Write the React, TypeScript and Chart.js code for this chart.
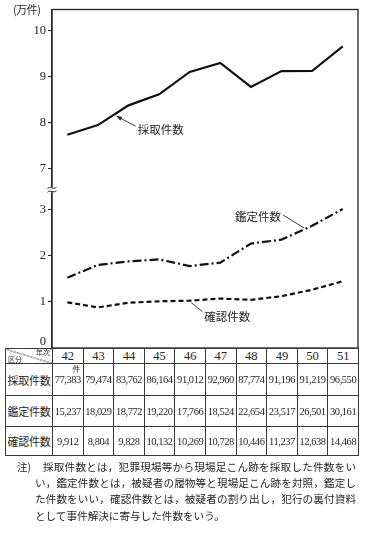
import React, { useEffect, useRef } from 'react';
import { Chart, registerables } from 'chart.js';

Chart.register(...registerables);

const years = ['42', '43', '44', '45', '46', '47', '48', '49', '50', '51'];
const saishu = [77383, 79474, 83762, 86164, 91012, 92960, 87774, 91196, 91219, 96550];
const kantei = [15237, 18029, 18772, 19220, 17766, 18524, 22654, 23517, 26501, 30161];
const kakunin = [9912, 8804, 9828, 10132, 10269, 10728, 10446, 11237, 12638, 14468];
const seriesNames = ['採取件数', '鑑定件数', '確認件数'];
const highTicks = [7, 8, 9, 10];
const lowTicks = [0, 1, 2, 3];
const unitLabel = '(万件)';
const headerYear = '年次';
const headerKind = '区分';
const unitMark = '件';
const noteMark = '注)';
const noteLines = [
  '採取件数とは，犯罪現場等から現場足こん跡を採取した件数をい',
  'い，鑑定件数とは，被疑者の履物等と現場足こん跡を対照，鑑定し',
  'た件数をいい，確認件数とは，被疑者の割り出し，犯行の裏付資料',
  'として事件解決に寄与した件数をいう。',
];

const SERIF = "'Liberation Serif', 'Noto Sans CJK JP', serif";
const JP = "'Noto Sans CJK JP', sans-serif";
const INK = '#262626';
const TICK_SIZE = 12.5;

const fmt = (n: number) => n.toLocaleString('en-US');

const overlay = {
  id: 'overlay',
  afterDraw(chart: any) {
    const ctx = chart.ctx as CanvasRenderingContext2D;
    const ca = chart.chartArea;
    ctx.save();
    // frame
    ctx.strokeStyle = INK;
    ctx.lineWidth = 1.3;
    ctx.strokeRect(ca.left, ca.top, ca.right - ca.left, ca.bottom - ca.top);
    // zero label sits just above the table
    const yLow = chart.scales.yLow;
    ctx.fillStyle = INK;
    ctx.font = `${TICK_SIZE}px ${SERIF}`;
    ctx.textAlign = 'right';
    ctx.textBaseline = 'middle';
    ctx.fillText(String(lowTicks[0]), ca.left - 6, yLow.getPixelForValue(lowTicks[0]) - 6);
    // axis break
    const by = yLow.top;
    const bx = ca.left;
    ctx.fillStyle = '#fff';
    ctx.fillRect(bx - 2, by - 2.5, 4, 5);
    ctx.lineWidth = 1;
    ctx.strokeStyle = INK;
    for (const off of [-1.8, 1.8]) {
      ctx.beginPath();
      ctx.moveTo(bx - 4.5, by + off + 0.8);
      ctx.bezierCurveTo(bx - 1.5, by + off - 2.2, bx + 1.5, by + off + 2.2, bx + 4.5, by + off - 0.8);
      ctx.stroke();
    }
    // annotations
    const pt = (di: number, i: number, t: number) => {
      const d = chart.getDatasetMeta(di).data;
      const a = d[i];
      const b = d[i + 1];
      return { x: a.x + (b.x - a.x) * t, y: a.y + (b.y - a.y) * t };
    };
    ctx.fillStyle = INK;
    ctx.strokeStyle = INK;
    ctx.lineWidth = 0.9;
    ctx.font = `11.5px ${JP}`;
    ctx.textBaseline = 'middle';
    // 採取件数
    const p0 = pt(0, 1, 0.55);
    ctx.beginPath();
    ctx.moveTo(p0.x + 2, p0.y + 2);
    ctx.lineTo(p0.x + 21, p0.y + 12);
    ctx.stroke();
    ctx.beginPath();
    ctx.moveTo(p0.x + 1.5, p0.y + 1.5);
    ctx.lineTo(p0.x + 7.5, p0.y + 2.8);
    ctx.lineTo(p0.x + 5.6, p0.y + 6.4);
    ctx.closePath();
    ctx.fill();
    ctx.textAlign = 'left';
    ctx.fillText(seriesNames[0], p0.x + 23, p0.y + 15);
    // 鑑定件数
    const p1 = pt(1, 7, 0.77);
    ctx.beginPath();
    ctx.moveTo(p1.x - 1, p1.y - 1);
    ctx.lineTo(p1.x - 22, p1.y - 14);
    ctx.stroke();
    ctx.textAlign = 'right';
    ctx.fillText(seriesNames[1], p1.x - 24, p1.y - 12);
    // 確認件数
    const p2 = pt(2, 4, 0.02);
    ctx.beginPath();
    ctx.moveTo(p2.x + 1, p2.y + 2);
    ctx.lineTo(p2.x + 12, p2.y + 11);
    ctx.stroke();
    ctx.textAlign = 'left';
    ctx.fillText(seriesNames[2], p2.x + 14, p2.y + 16);
    ctx.restore();
  },
};

export default function App() {
  const ref = useRef<HTMLCanvasElement>(null);

  useEffect(() => {
    document.body.style.margin = '0';
    const canvas = ref.current!;
    const tickFont = { family: SERIF, size: TICK_SIZE };
    const chart = new Chart(canvas, {
      type: 'line',
      data: {
        labels: years,
        datasets: [
          {
            label: seriesNames[0],
            data: saishu.map((v) => v / 10000),
            yAxisID: 'yHigh',
            borderColor: '#111',
            borderWidth: 2.2,
            pointRadius: 0,
            tension: 0,
          },
          {
            label: seriesNames[1],
            data: kantei.map((v) => v / 10000),
            yAxisID: 'yLow',
            borderColor: '#111',
            borderWidth: 2.2,
            borderDash: [9, 3, 2, 3],
            pointRadius: 0,
            tension: 0,
          },
          {
            label: seriesNames[2],
            data: kakunin.map((v) => v / 10000),
            yAxisID: 'yLow',
            borderColor: '#111',
            borderWidth: 2.2,
            borderDash: [5, 3],
            pointRadius: 0,
            tension: 0,
          },
        ],
      },
      options: {
        responsive: false,
        animation: false,
        devicePixelRatio: 1,
        layout: { padding: { top: 8, right: 8, bottom: 12, left: 0 } },
        plugins: { legend: { display: false }, tooltip: { enabled: false } },
        scales: {
          x: { type: 'category', offset: true, display: false },
          yLow: {
            type: 'linear',
            position: 'left',
            stack: 'y',
            stackWeight: 159,
            min: 0,
            max: 3.434,
            afterFit: (s: any) => { s.width = 52; },
            afterBuildTicks: (s: any) => { s.ticks = lowTicks.map((v) => ({ value: v })); },
            ticks: {
              font: tickFont,
              color: INK,
              padding: 2,
              autoSkip: false,
              callback: (v: any) => (v === lowTicks[0] ? '' : String(v)),
            },
            grid: { drawOnChartArea: false, color: INK, tickLength: 4 },
            border: { display: true, color: INK, width: 1.3 },
          },
          yHigh: {
            type: 'linear',
            position: 'left',
            stack: 'y',
            stackWeight: 181,
            min: 6.546,
            max: 10.456,
            afterFit: (s: any) => { s.width = 52; },
            afterBuildTicks: (s: any) => { s.ticks = highTicks.map((v) => ({ value: v })); },
            ticks: { font: tickFont, color: INK, padding: 2, autoSkip: false },
            grid: { drawOnChartArea: false, color: INK, tickLength: 4 },
            border: { display: true, color: INK, width: 1.3 },
          },
        },
      } as any,
      plugins: [overlay],
    });
    return () => chart.destroy();
  }, []);

  const rows = [saishu, kantei, kakunin];
  const rowHeights = [32, 31, 29];
  const cell: React.CSSProperties = {
    border: '1px solid #3a3a3a',
    padding: 0,
    textAlign: 'center',
    verticalAlign: 'middle',
    color: INK,
  };
  const numStyle: React.CSSProperties = {
    ...cell,
    fontFamily: SERIF,
    fontSize: 10.5,
    letterSpacing: '-0.45px',
    whiteSpace: 'nowrap',
  };

  return (
    <div style={{ position: 'relative', width: 366, height: 536, background: '#fff', overflow: 'hidden' }}>
      <canvas ref={ref} width={366} height={360} style={{ position: 'absolute', left: 0, top: 0, width: 366, height: 360 }} />
      <div style={{ position: 'absolute', left: 13, top: 1, fontFamily: JP, fontSize: 11, color: INK, letterSpacing: '-0.5px' }}>{unitLabel}</div>
      <table
        style={{
          position: 'absolute',
          left: 5,
          top: 348,
          width: 353,
          borderCollapse: 'collapse',
          tableLayout: 'fixed',
          border: '1.5px solid #222',
          background: '#fff',
        }}
      >
        <colgroup>
          <col style={{ width: 47 }} />
          {years.map((y) => (
            <col key={y} style={{ width: 30.6 }} />
          ))}
        </colgroup>
        <tbody>
          <tr style={{ height: 15 }}>
            <td
              style={{
                ...cell,
                position: 'relative',
                background: 'linear-gradient(to top right, transparent calc(50% - 0.6px), #333 50%, transparent calc(50% + 0.6px))',
              }}
            >
              <span style={{ position: 'absolute', right: 2, top: -1, fontFamily: JP, fontSize: 7, lineHeight: '8px' }}>{headerYear}</span>
              <span style={{ position: 'absolute', left: 2, bottom: 0, fontFamily: JP, fontSize: 7, lineHeight: '8px' }}>{headerKind}</span>
            </td>
            {years.map((y) => (
              <td key={y} style={{ ...cell, fontFamily: SERIF, fontSize: 12.5, lineHeight: '13px' }}>{y}</td>
            ))}
          </tr>
          {rows.map((r, ri) => (
            <tr key={ri} style={{ height: rowHeights[ri] }}>
              <td style={{ ...cell, fontFamily: JP, fontSize: 11, letterSpacing: '-0.3px', whiteSpace: 'nowrap' }}>{seriesNames[ri]}</td>
              {r.map((v, ci) => (
                <td key={ci} style={{ ...numStyle, position: 'relative' }}>
                  {ri === 0 && ci === 0 ? (
                    <span style={{ position: 'absolute', right: 3, top: 1, fontFamily: JP, fontSize: 7.5, lineHeight: '8px' }}>{unitMark}</span>
                  ) : null}
                  {fmt(v)}
                </td>
              ))}
            </tr>
          ))}
        </tbody>
      </table>
      <div style={{ position: 'absolute', left: 17, top: 459, fontFamily: JP, fontSize: 10.6, lineHeight: '16px', color: INK }}>{noteMark}</div>
      {noteLines.map((line, i) => (
        <div
          key={i}
          style={{
            position: 'absolute',
            left: i === 0 ? 43 : 35,
            top: 459 + i * 16.2,
            width: i === 0 ? 313 : 321,
            fontFamily: JP,
            fontSize: 10.6,
            lineHeight: '16px',
            color: INK,
            textAlign: i < 3 ? 'justify' : 'left',
            textAlignLast: i < 3 ? 'justify' : 'auto',
          }}
        >
          {line}
        </div>
      ))}
    </div>
  );
}
